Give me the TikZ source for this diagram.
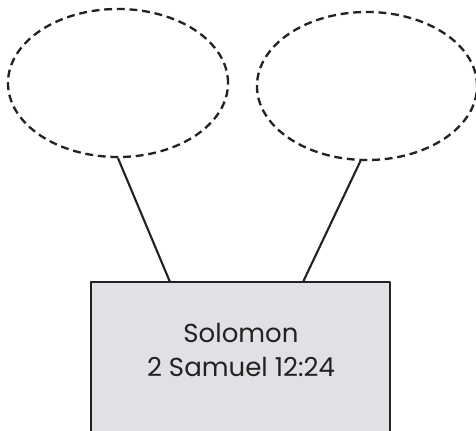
\documentclass[tikz,border=0pt]{standalone}
\usepackage{fontspec}
\setmainfont{Poppins}
\usetikzlibrary{shapes.geometric}
\definecolor{boxgray}{RGB}{224,225,228}
\definecolor{inkgray}{RGB}{34,34,34}
\begin{document}
\begin{tikzpicture}[x=0.025cm, y=-0.025cm, line join=round,
		bubble/.style={ellipse, draw=inkgray, line width=1.65pt, dash pattern=on 5.6pt off 3.4pt, minimum width=5.5cm, minimum height=3.7cm, inner sep=0pt},
		namebox/.style={draw=inkgray, fill=boxgray, line width=1.65pt, minimum width=7.475cm, minimum height=3.95cm, inner sep=0pt},
		link/.style={draw=inkgray, line width=1.5pt}]
			\clip (0,0) rectangle (476,430);
			\node[bubble] (L) at (118,83) {};
			\node[bubble] (R) at (367,86) {};
			\node[namebox] (box) at (240.5,361) {};
			\node[align=center, text=inkgray, font=\fontsize{18.5}{24}\selectfont] (name) at (241,350) {Solomon\\2 Samuel 12:24};
			\coordinate (a) at (170,282);
			\coordinate (b) at (303,282);
			\draw[link] (L.south)--(a) (R.265)--(b);
		\end{tikzpicture}
\end{document}
